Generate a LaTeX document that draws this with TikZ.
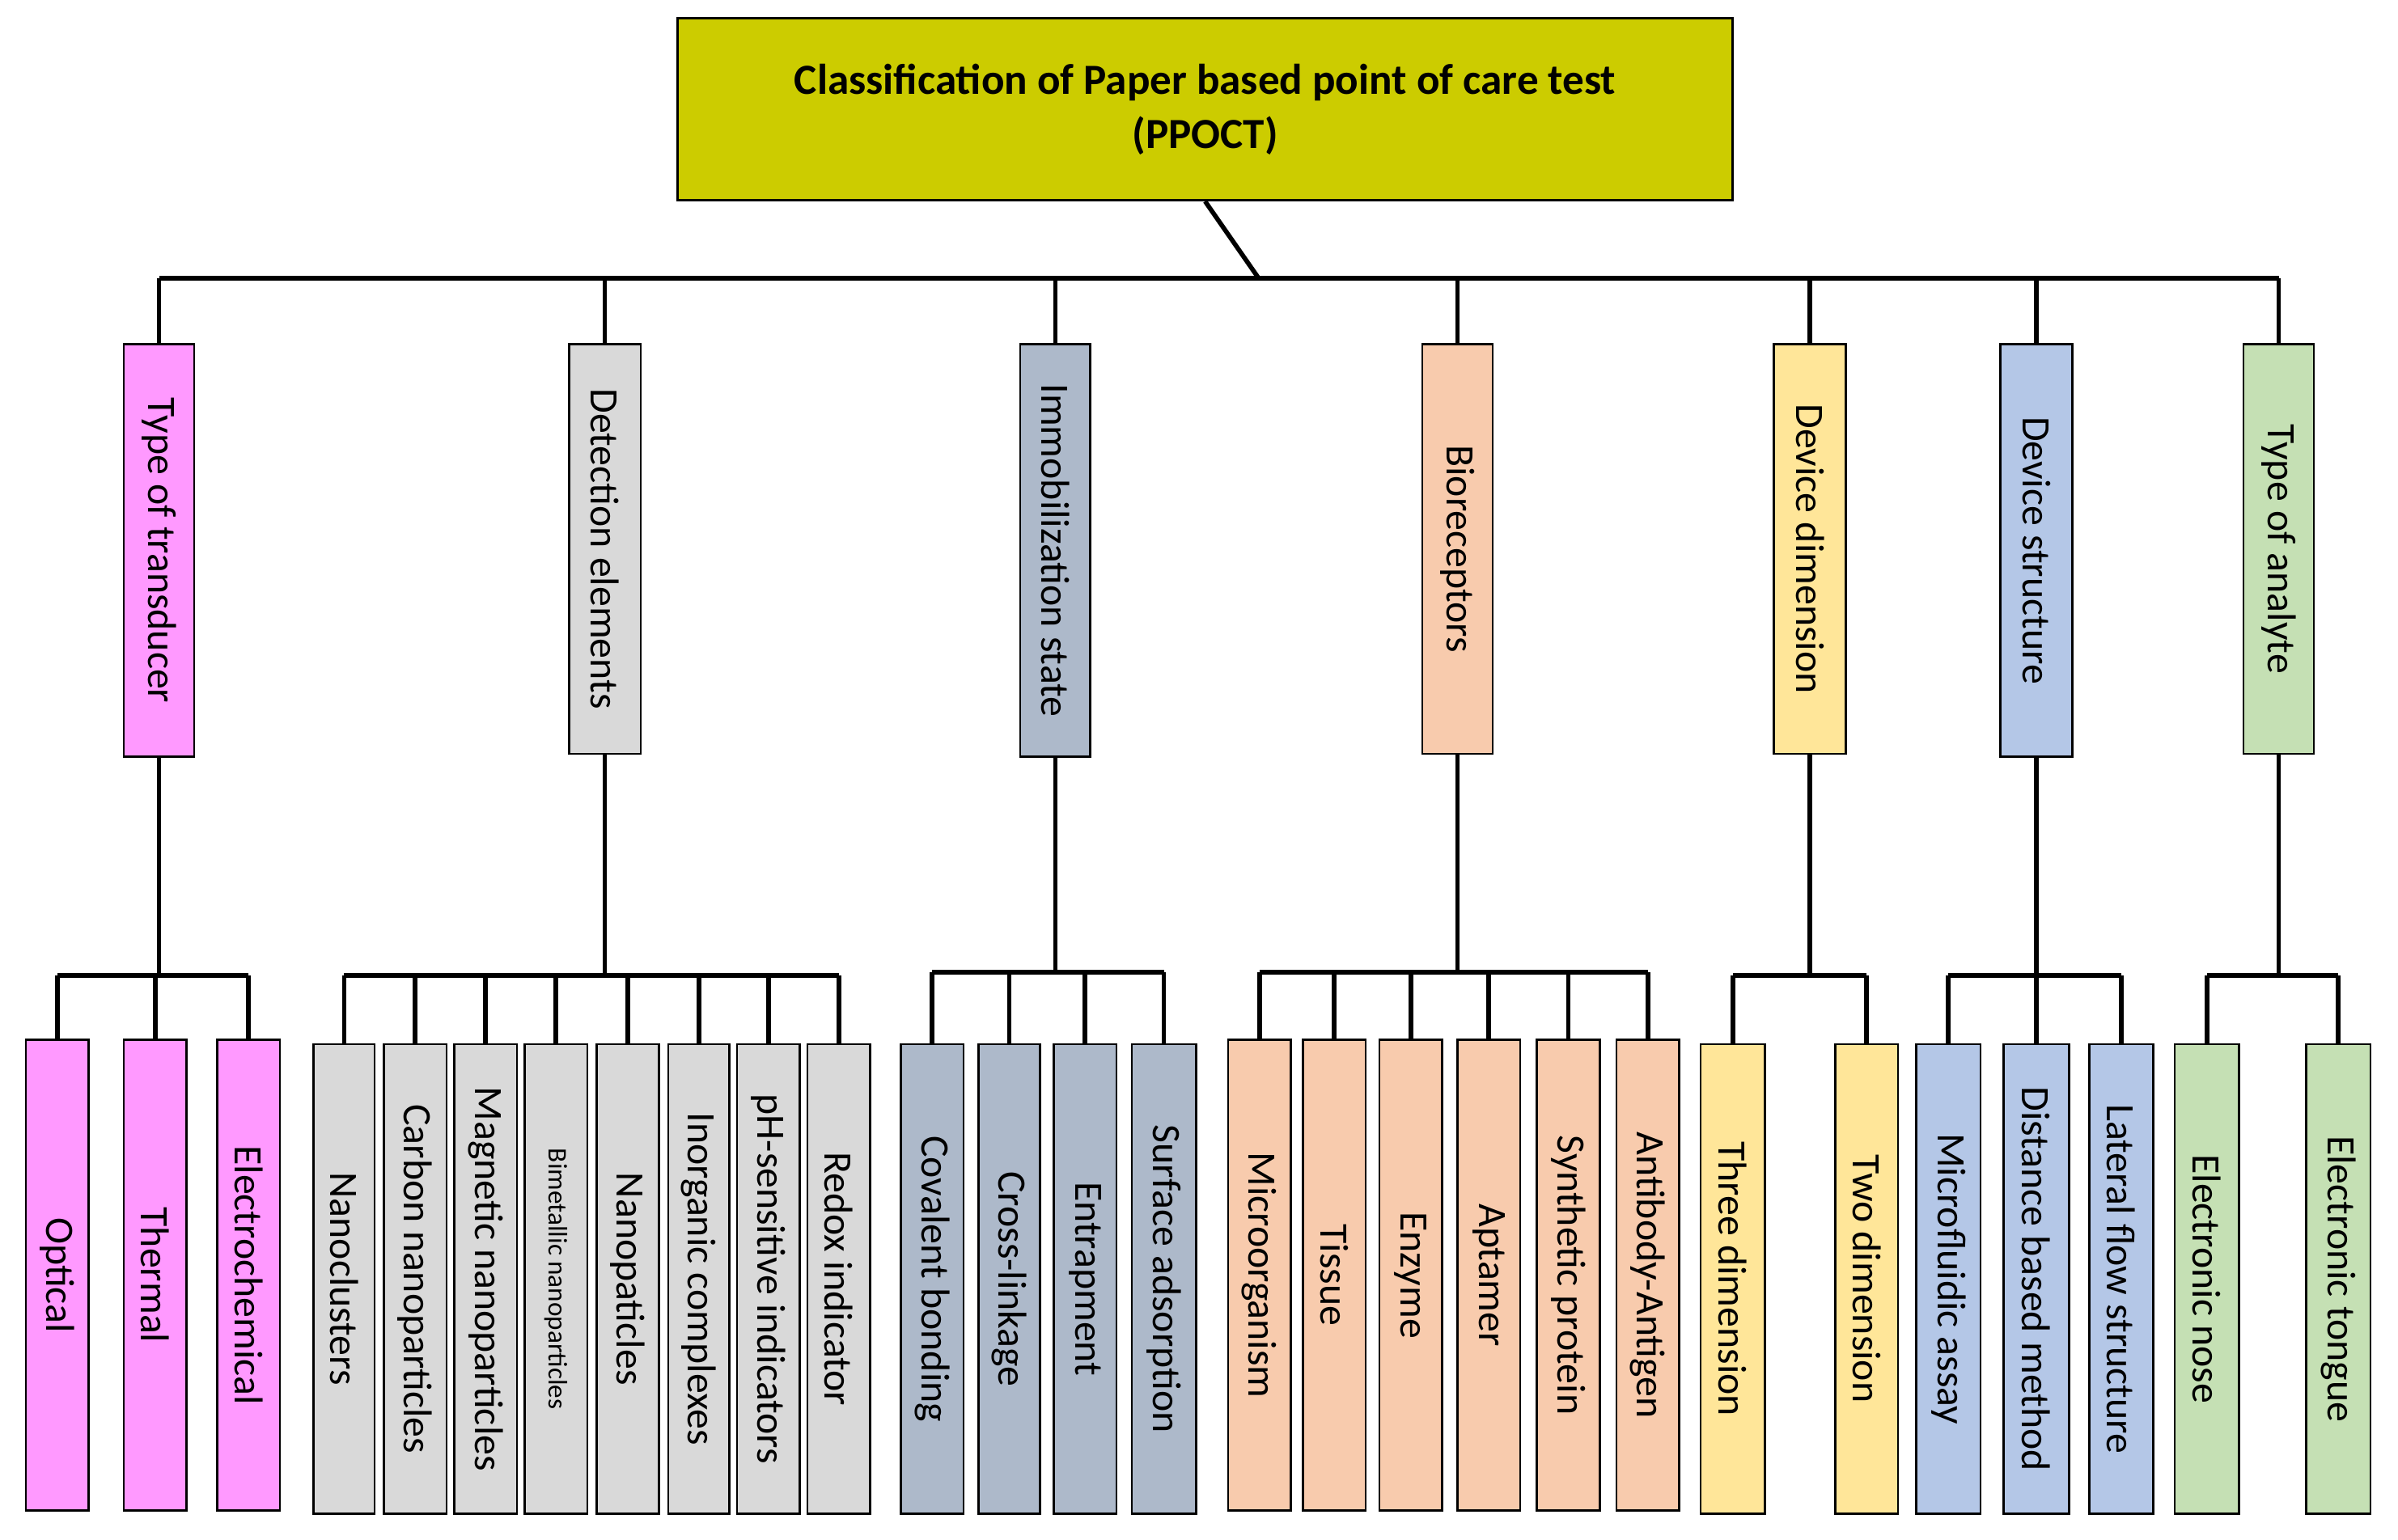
\documentclass[tikz,border=0pt]{standalone}
\usepackage{fontspec}
\setmainfont{Carlito}
\definecolor{cT}{RGB}{204,204,0}
\definecolor{cA}{RGB}{255,153,255}
\definecolor{cB}{RGB}{217,217,217}
\definecolor{cC}{RGB}{173,185,202}
\definecolor{cD}{RGB}{248,203,173}
\definecolor{cE}{RGB}{255,230,153}
\definecolor{cF}{RGB}{180,199,231}
\definecolor{cG}{RGB}{197,224,180}
\newcommand{\bx}[8]{\node[box,fill=#6,rotate=-90,minimum width={(#5-#4)*0.02cm},minimum height={(#3-#2)*0.02cm},font=#8] (#1) at ({(#2+#3)/2},{(#4+#5)/2}) {#7};}
\newcommand{\dropA}[1]{\draw[ln] (#1.west) -- (#1.west |- 0,182);}
\newcommand{\dropB}[2]{\draw[ln] (#1.west) -- (#1.west |- 0,#2);}
\begin{document}
\begin{tikzpicture}[x=0.02cm,y=-0.02cm,
 box/.style={draw=black,line width=0.8pt,inner sep=0pt},
 ln/.style={line width=1.7pt}]
\useasboundingbox (0,0) rectangle (1568,1007);
\node[draw=black,line width=0.8pt,fill=cT,minimum width={690*0.02cm},minimum height={119*0.02cm},align=center,font=\fontsize{16}{20}\selectfont\bfseries] (title) at (788,71.5) {Classification of Paper based point of care test\\(PPOCT)};
\def\fs{\fontsize{15}{18}\selectfont}
% categories
\bx{c1}{81}{127}{225}{495}{cA}{Type of transducer}{\fs}
\bx{c2}{372}{419}{225}{493}{cB}{Detection elements}{\fs}
\bx{c3}{667}{713}{225}{495}{cC}{Immobilization state}{\fs}
\bx{c4}{930}{976}{225}{493}{cD}{Bioreceptors}{\fs}
\bx{c5}{1160}{1207}{225}{493}{cE}{Device dimension}{\fs}
\bx{c6}{1308}{1355}{225}{495}{cF}{Device structure}{\fs}
\bx{c7}{1467}{1513}{225}{493}{cG}{Type of analyte}{\fs}
\coordinate (tb) at (823,182);
\draw[ln] (title.south) -- (tb);
\draw[ln] (c1.west |- tb) -- (c7.west |- tb);
\dropA{c1}\dropA{c2}\dropA{c3}\dropA{c4}\dropA{c5}\dropA{c6}\dropA{c7}
% group 1
\bx{a1}{17}{58}{680}{988}{cA}{Optical}{\fs}
\bx{a2}{81}{122}{680}{988}{cA}{Thermal}{\fs}
\bx{a3}{142}{183}{680}{988}{cA}{Electrochemical}{\fs}
\draw[ln] (c1.east) -- (c1.east |- 0,638);
\draw[ln] (a1.west |- 0,638) -- (a3.west |- 0,638);
\dropB{a1}{638}\dropB{a2}{638}\dropB{a3}{638}
% group 2
\bx{b1}{205}{245}{683}{990}{cB}{Nanoclusters}{\fs}
\bx{b2}{251}{292}{683}{990}{cB}{Carbon nanoparticles}{\fs}
\bx{b3}{297}{338}{683}{990}{cB}{Magnetic nanoparticles}{\fs}
\bx{b4}{343}{384}{683}{990}{cB}{Bimetallic nanoparticles}{\fontsize{10}{12}\selectfont}
\bx{b5}{390}{431}{683}{990}{cB}{Nanopaticles}{\fs}
\bx{b6}{437}{477}{683}{990}{cB}{Inorganic complexes}{\fs}
\bx{b7}{482}{523}{683}{990}{cB}{pH-sensitive indicators}{\fs}
\bx{b8}{528}{569}{683}{990}{cB}{Redox indicator}{\fs}
\draw[ln] (c2.east) -- (c2.east |- 0,638);
\draw[ln] (b1.west |- 0,638) -- (b8.west |- 0,638);
\dropB{b1}{638}\dropB{b2}{638}\dropB{b3}{638}\dropB{b4}{638}\dropB{b5}{638}\dropB{b6}{638}\dropB{b7}{638}\dropB{b8}{638}
% group 3
\bx{d1}{589}{630}{683}{990}{cC}{Covalent bonding}{\fs}
\bx{d2}{640}{680}{683}{990}{cC}{Cross-linkage}{\fs}
\bx{d3}{689}{730}{683}{990}{cC}{Entrapment}{\fs}
\bx{d4}{740}{782}{683}{990}{cC}{Surface adsorption}{\fs}
\draw[ln] (c3.east) -- (c3.east |- 0,636);
\draw[ln] (d1.west |- 0,636) -- (d4.west |- 0,636);
\dropB{d1}{636}\dropB{d2}{636}\dropB{d3}{636}\dropB{d4}{636}
% group 4
\bx{e1}{803}{844}{680}{988}{cD}{Microorganism}{\fs}
\bx{e2}{852}{893}{680}{988}{cD}{Tissue}{\fs}
\bx{e3}{902}{943}{680}{988}{cD}{Enzyme}{\fs}
\bx{e4}{953}{994}{680}{988}{cD}{Aptamer}{\fs}
\bx{e5}{1005}{1046}{680}{988}{cD}{Synthetic protein}{\fs}
\bx{e6}{1057}{1098}{680}{988}{cD}{Antibody-Antigen}{\fs}
\draw[ln] (c4.east) -- (c4.east |- 0,636);
\draw[ln] (e1.west |- 0,636) -- (e6.west |- 0,636);
\dropB{e1}{636}\dropB{e2}{636}\dropB{e3}{636}\dropB{e4}{636}\dropB{e5}{636}\dropB{e6}{636}
% group 5
\bx{f1}{1112}{1154}{683}{990}{cE}{Three dimension}{\fs}
\bx{f2}{1200}{1241}{683}{990}{cE}{Two dimension}{\fs}
\draw[ln] (c5.east) -- (c5.east |- 0,638);
\draw[ln] (f1.west |- 0,638) -- (f2.west |- 0,638);
\dropB{f1}{638}\dropB{f2}{638}
% group 6
\bx{g1}{1253}{1295}{683}{990}{cF}{Microfluidic assay}{\fs}
\bx{g2}{1310}{1353}{683}{990}{cF}{Distance based method}{\fs}
\bx{g3}{1366}{1408}{683}{990}{cF}{Lateral flow structure}{\fs}
\draw[ln] (c6.east) -- (c6.east |- 0,638);
\draw[ln] (g1.west |- 0,638) -- (g3.west |- 0,638);
\dropB{g1}{638}\dropB{g2}{638}\dropB{g3}{638}
% group 7
\bx{h1}{1422}{1464}{683}{990}{cG}{Electronic nose}{\fs}
\bx{h2}{1508}{1550}{683}{990}{cG}{Electronic tongue}{\fs}
\draw[ln] (c7.east) -- (c7.east |- 0,638);
\draw[ln] (h1.west |- 0,638) -- (h2.west |- 0,638);
\dropB{h1}{638}\dropB{h2}{638}
\end{tikzpicture}
\end{document}
